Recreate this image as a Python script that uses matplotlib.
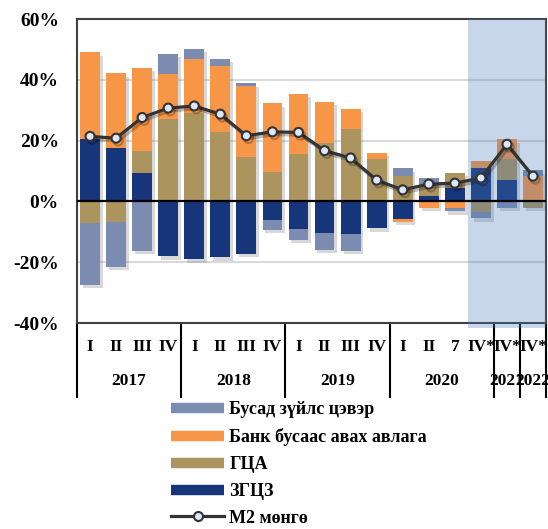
import matplotlib
matplotlib.use('Agg')
import matplotlib.pyplot as plt
import matplotlib.patheffects as pe
import matplotlib.transforms as mtransforms
from matplotlib.lines import Line2D
import numpy as np

plt.rcParams['font.family'] = ['Liberation Serif', 'DejaVu Serif']
plt.rcParams['font.weight'] = 'bold'

# quarters and years
quarters = ['I', 'II', 'III', 'IV', 'I', 'II', 'III', 'IV', 'I', 'II', 'III', 'IV',
            'I', 'II', '7', 'IV*', 'IV*', 'IV*']
years = ['2017', '2018', '2019', '2020', '2021', '2022']
year_sizes = [4, 4, 4, 4, 1, 1]

# contributions, percentage points
zgcz = [20.7, 17.5, 9.5, -18.1, -19.0, -18.4, -17.3, -6.1, -9.2, -10.5, -10.7, -8.8,
        -5.8, 1.9, 4.3, 11.1, 7.0, 0.0]
gca = [-7.1, -6.8, 7.0, 27.2, 29.2, 22.8, 14.7, 9.6, 15.5, 19.3, 23.7, 13.9,
       8.2, 3.3, 5.1, -3.6, 6.8, -2.0]
bank = [28.3, 24.7, 27.5, 14.6, 17.6, 21.7, 23.2, 22.7, 20.0, 13.4, 6.7, 2.1,
        -0.9, -2.0, -2.2, 2.2, 6.7, 8.4]
busad = [-20.4, -14.7, -16.2, 6.8, 3.4, 2.5, 0.9, -3.3, -3.4, -5.4, -5.5, 0.0,
         2.7, 2.4, -1.1, -1.9, -2.0, 1.9]
m2 = [21.4, 20.8, 27.6, 30.7, 31.4, 28.7, 21.6, 22.9, 22.7, 16.7, 14.3, 7.0,
      3.8, 5.7, 6.0, 7.7, 18.8, 8.3]

series = [
    ('ЗГЦЗ', zgcz, '#17357a'),
    ('ГЦА', gca, '#ac945f'),
    ('Банк бусаас авах авлага', bank, '#f79646'),
    ('Бусад зүйлс цэвэр', busad, '#7b8cb0'),
]

fig = plt.figure(figsize=(5.48, 5.29), dpi=100)
ax = fig.add_axes([0.1405, 0.3894, 0.856, 0.5746])

x = np.arange(len(quarters))
data = np.array([s[1] for s in series])
pos_tot = np.where(data > 0, data, 0).sum(axis=0)
neg_tot = np.where(data < 0, data, 0).sum(axis=0)

# soft drop shadow under every whole stack
only_shadow = [pe.SimplePatchShadow(offset=(2, -2.5), shadow_rgbFace='#808080', alpha=0.3)]
for tot in (pos_tot, neg_tot):
    for b in ax.bar(x, tot, 0.76, color='none', zorder=1.5):
        b.set_path_effects(only_shadow)

pos_base = np.zeros(len(x))
neg_base = np.zeros(len(x))
for name, vals, color in series:
    v = np.array(vals)
    base = np.where(v >= 0, pos_base, neg_base)
    ax.bar(x, v, 0.76, bottom=base, color=color, zorder=2)
    pos_base += np.where(v >= 0, v, 0)
    neg_base += np.where(v < 0, v, 0)

# forecast shading
ax.axvspan(14.5, 17.5, ymin=-0.017, ymax=1, color='#487ab9', alpha=0.3,
           lw=0, zorder=3, clip_on=False)

ax.axhline(0, color='black', lw=1.6, zorder=3.5)

ax.plot(x, m2, color='#333333', lw=2.3, marker='o', markersize=6.5,
        markerfacecolor='#dce8fa', markeredgecolor='#333333', markeredgewidth=1.5,
        zorder=5,
        path_effects=[pe.SimpleLineShadow(offset=(1.5, -2), alpha=0.25), pe.Normal()])

ax.set_xlim(-0.5, len(x) - 0.5)
ax.set_ylim(-40, 60)
ax.set_yticks(np.arange(-40, 61, 20))
ax.set_yticklabels([f'{t}%' for t in range(-40, 61, 20)], fontsize=14, fontweight='bold')
ax.tick_params(axis='y', length=0, pad=13)
ax.set_xticks([])
for t in [-20, 20, 40]:
    ax.axhline(t, color='#d9d9d9', lw=1.5, zorder=1)
for s in ax.spines.values():
    s.set_color('#404040')
    s.set_linewidth(1.5)

# category table under the axis
trans = mtransforms.blended_transform_factory(ax.transData, ax.transAxes)
for i, q in enumerate(quarters):
    ax.text(i, -0.08, q, transform=trans, ha='center', va='center',
            fontsize=12.5, fontweight='bold')
edges = np.concatenate([[0], np.cumsum(year_sizes)]) - 0.5
for k, yr in enumerate(years):
    ax.text((edges[k] + edges[k + 1]) / 2, -0.19, yr, transform=trans,
            ha='center', va='center', fontsize=12.5, fontweight='bold')
for e in edges:
    ax.plot([e, e], [0, -0.243], transform=trans, color='black', lw=1.5, clip_on=False)

handles = [
    Line2D([], [], color='#7b8cb0', lw=7.5, solid_capstyle='butt'),
    Line2D([], [], color='#f79646', lw=7.5, solid_capstyle='butt'),
    Line2D([], [], color='#ac945f', lw=7.5, solid_capstyle='butt'),
    Line2D([], [], color='#17357a', lw=7.5, solid_capstyle='butt'),
    Line2D([], [], color='#333333', lw=2.3, marker='o', markersize=6.5,
           markerfacecolor='#dce8fa', markeredgecolor='#333333', markeredgewidth=1.5),
]
labels = ['Бусад зүйлс цэвэр', 'Банк бусаас авах авлага', 'ГЦА', 'ЗГЦЗ', 'М2 мөнгө']
fig.legend(handles, labels, loc='upper left', bbox_to_anchor=(0.3128, 0.2418),
           frameon=False, handlelength=2.9, handletextpad=0.3,
           labelspacing=0.55, borderaxespad=0, borderpad=0,
           prop={'weight': 'bold', 'size': 13})

fig.savefig('out.png', dpi=100)
